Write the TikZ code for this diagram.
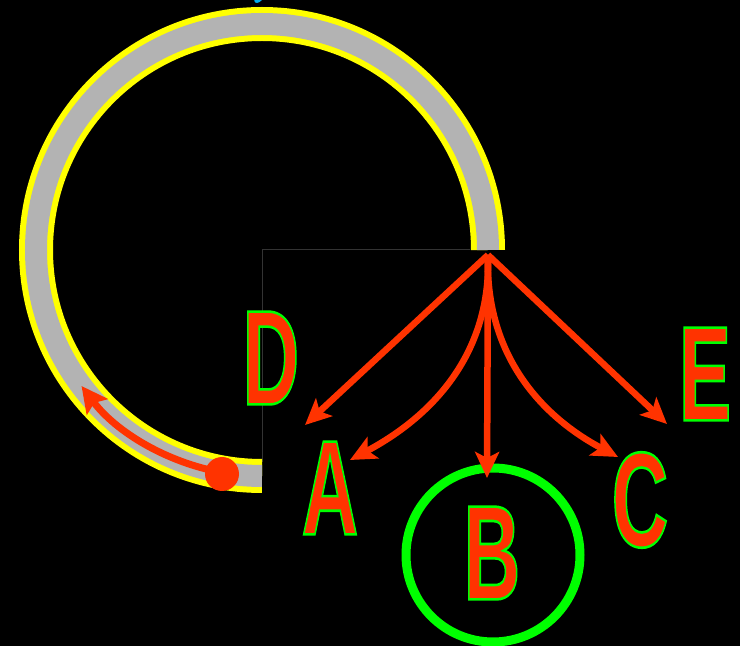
\documentclass[tikz,border=0pt]{standalone}
\usepackage{fontspec}
\setsansfont{Liberation Sans}
\usetikzlibrary{arrows.meta,positioning}
\definecolor{ringgray}{HTML}{B3B3B3}
\definecolor{ringyellow}{HTML}{FFFF00}
\definecolor{hotred}{HTML}{FF3300}
\definecolor{rimgreen}{HTML}{00FF00}
\definecolor{guidegray}{HTML}{333333}
% red face with a green rim (text render mode 2)
\newcommand{\rimmed}[1]{\scalebox{0.58}[1]{\color{hotred}\special{pdf:code q 2 Tr 2.6 w 0 1 0 RG}#1\special{pdf:code Q}}}

\begin{document}
\begin{tikzpicture}[
  x=1pt, y=1pt,
  font=\sffamily\bfseries,
  letter/.style={inner sep=0pt, font=\fontsize{135}{135}\sffamily\bfseries},
  arr/.style={-{Stealth[length=26pt,width=24pt,inset=6pt]}, hotred, line width=6.5pt},
  guide/.style={guidegray, line width=1pt}
]
\fill[black] (0,0) rectangle (740,646);
\useasboundingbox (0,0) rectangle (740,646);

% centre of the ring and the two guide lines
\coordinate (ctr) at (262,396);
\coordinate (ringend) at (470,396);
\coordinate (ringfoot) at (262,184);
\draw[guide] (ringend) -- (ctr) -- (ringfoot);

% three-quarter ring
\draw[ringyellow, line width=34pt] (262,170) arc[start angle=270, end angle=0, radius=226];
\draw[ringgray, line width=22pt] (262,170) arc[start angle=270, end angle=0, radius=226];
\fill[cyan, rotate around={-35:(260,650)}] (260,650) ellipse (4pt and 8pt);

% marker running along the ring
\node[circle, fill=hotred, minimum size=34pt, inner sep=0pt] (dot) at (222,172) {};
\draw[hotred, line width=7pt, -{Stealth[length=26pt,width=26pt,inset=5pt]}]
  (222.8,173.4) arc[start angle=260, end angle=217, radius=226];

% letters
\node[letter] (D) at (271,288) {\rimmed{D}};
\node[letter] (A) at (330,158) {\rimmed{A}};
\node[letter] (B) at (492,93)  {\rimmed{B}};
\node[letter] (C) at (640,146) {\rimmed{C}};
\node[letter] (E) at (705,272) {\rimmed{E}};
\draw[rimgreen, line width=9pt] (493,91) circle (87);

% fan of arrows
\coordinate (src)  at (488,391);
\coordinate (toA)  at (305,221);
\coordinate (toD)  at (350,186);
\coordinate (toB)  at (487,168);
\coordinate (toC)  at (618,189);
\coordinate (toE)  at (667,222);
\draw[arr] (src) -- (toA);
\draw[arr] (src) to[out=-88, in=28] (toD);
\draw[arr] (src) -- (toB);
\draw[arr] (src) to[out=-92, in=152] (toC);
\draw[arr] (src) -- (toE);

\end{tikzpicture}
\end{document}
